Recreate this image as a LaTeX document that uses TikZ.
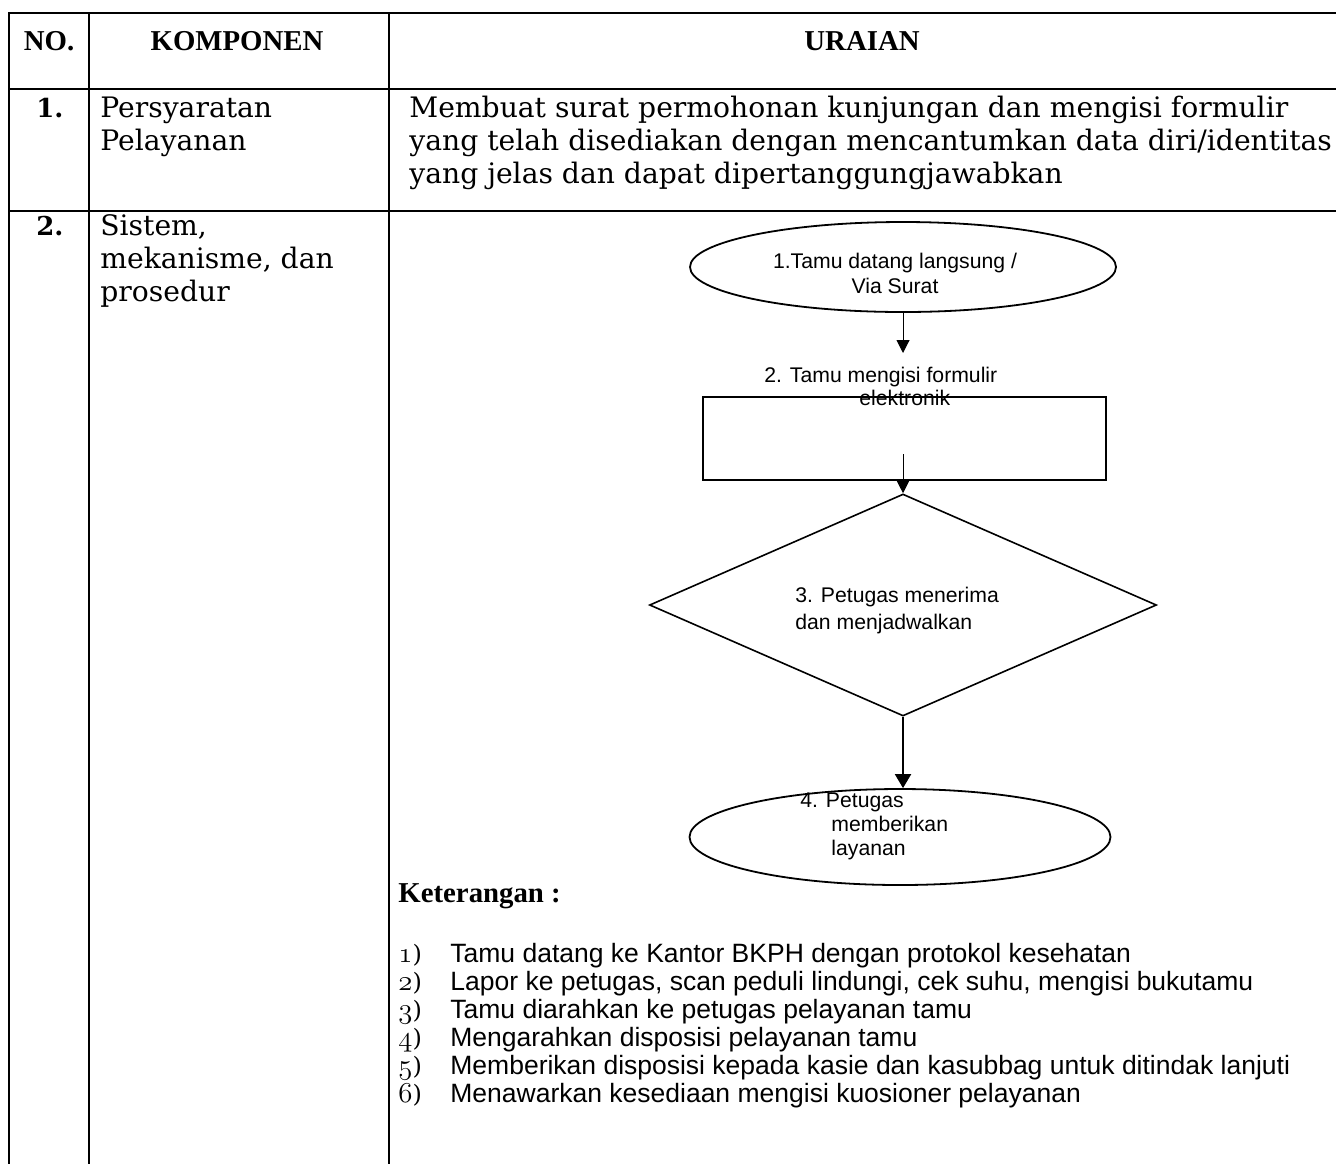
\documentclass[tikz,border=0pt]{standalone}
\usepackage{fontspec}
\setmainfont{DejaVu Serif}
\newfontfamily\headfont{Liberation Serif}
\newfontfamily\flowfont{Liberation Sans}
\usetikzlibrary{shapes.geometric,arrows.meta}

\tikzset{
  grid line/.style={line width=1.35pt},
  headtxt/.style={font=\headfont\bfseries\fontsize{14.4}{16}\selectfont, inner sep=0pt, anchor=base},
  celltxt/.style={font=\fontsize{14.1}{16.5}\selectfont, inner sep=0pt, align=left, anchor=base west},
  flowtxt/.style={font=\flowfont\fontsize{10.6}{12.5}\selectfont, inner sep=0pt, align=left, anchor=base west},
  listnum/.style={font=\fontsize{12}{13}\selectfont, inner sep=0pt, anchor=base west},
  listtxt/.style={font=\flowfont\fontsize{13.25}{14}\selectfont, inner sep=0pt, anchor=base west},
  oval/.style={ellipse, draw, line width=0.9pt, inner sep=0pt},
  boxnode/.style={rectangle, draw, line width=0.9pt, inner sep=0pt},
  decide/.style={diamond, draw, line width=0.8pt, inner sep=0pt},
  thin arrow/.style={line width=0.5pt, -{Triangle[length=6.5pt,width=6.5pt]}},
  thick arrow/.style={line width=1pt, -{Triangle[length=7pt,width=8pt]}}
}

\begin{document}
\begin{tikzpicture}[x=0.5pt, y=-0.5pt]
  \useasboundingbox (0,0) rectangle (1336,1163);

  % Table lines
  \draw[grid line] (9,13) -- (1340,13);
  \draw[grid line] (9,89) -- (1340,89);
  \draw[grid line] (9,211) -- (1340,211);
  \draw[grid line] (9,12.3) -- (9,1165);
  \draw[grid line] (89,12.3) -- (89,1165);
  \draw[grid line] (389,12.3) -- (389,1165);

  % Header
  \node[headtxt] (hno) at (49,50) {NO.};
  \node[headtxt] (hkomp) at (237,50) {KOMPONEN};
  \node[headtxt] (hurai) at (862,50) {URAIAN};

  % Row 1 (multi-line nodes sit on their last baseline)
  \node[celltxt, font=\bfseries\fontsize{13}{16.5}\selectfont] (no1) at (36,117) {1.};
  \node[celltxt] (komp1) at (100,150) {Persyaratan\\Pelayanan};
  \node[celltxt] (urai1) at (409,183) {Membuat surat permohonan kunjungan dan mengisi formulir\\yang telah disediakan dengan mencantumkan data diri/identitas\\yang jelas dan dapat dipertanggungjawabkan};

  % Row 2
  \node[celltxt, font=\bfseries\fontsize{13}{16.5}\selectfont] (no2) at (36,235) {2.};
  \node[celltxt] (komp2) at (100,301) {Sistem,\\mekanisme, dan\\prosedur};

  % Flow chart
  \node[oval, minimum width=213pt, minimum height=45pt] (datang) at (903,267) {};
  \node[flowtxt, anchor=base, align=center] (datangtxt) at (895,293) {1.Tamu datang langsung /\\Via Surat};
  \coordinate (isitop) at (903,353);
  \draw[thin arrow] (datang.south) -- (isitop);

  \node[boxnode, minimum width=201.5pt, minimum height=41.5pt] (isi) at (904.5,438.5) {};
  \node[flowtxt, font=\flowfont\fontsize{10.6}{11.5}\selectfont] (isitxt) at (764,405) {2. Tamu mengisi formulir\\\hspace*{47.5pt}elektronik};
  \coordinate (isimid) at (903,454);

  \node[decide, minimum width=253.5pt, minimum height=111pt] (terima) at (903,605) {};
  \draw[thin arrow] (isimid) -- (terima.north);
  \node[flowtxt, font=\flowfont\fontsize{10.6}{13.5}\selectfont] (terimatxt) at (795,629) {3. Petugas menerima\\dan menjadwalkan};

  \node[oval, minimum width=210.5pt, minimum height=48pt] (layan) at (900,837) {};
  \draw[thick arrow] (terima.south) -- (terima.south |- layan.north);
  \node[flowtxt, font=\flowfont\fontsize{10.6}{12}\selectfont] (layantxt) at (800,855) {4. Petugas\\\hspace*{15.5pt}memberikan\\\hspace*{15.5pt}layanan};

  % Keterangan
  \node[headtxt, anchor=base west] (ket) at (398,902) {Keterangan :};
  \foreach \n/\txt in {1/Tamu datang ke Kantor BKPH dengan protokol kesehatan,
      2/{Lapor ke petugas, scan peduli lindungi, cek suhu, mengisi bukutamu},
      3/Tamu diarahkan ke petugas pelayanan tamu,
      4/Mengarahkan disposisi pelayanan tamu,
      5/Memberikan disposisi kepada kasie dan kasubbag untuk ditindak lanjuti,
      6/Menawarkan kesediaan mengisi kuosioner pelayanan} {
    \node[listnum] (knum\n) at (398,{962+(\n-1)*28}) {\smash{\fontsize{14}{14}\selectfont$\mathnormal{\n}$})};
    \node[listtxt] (ktxt\n) at (450,{962+(\n-1)*28}) {\txt};
  }
\end{tikzpicture}
\end{document}
